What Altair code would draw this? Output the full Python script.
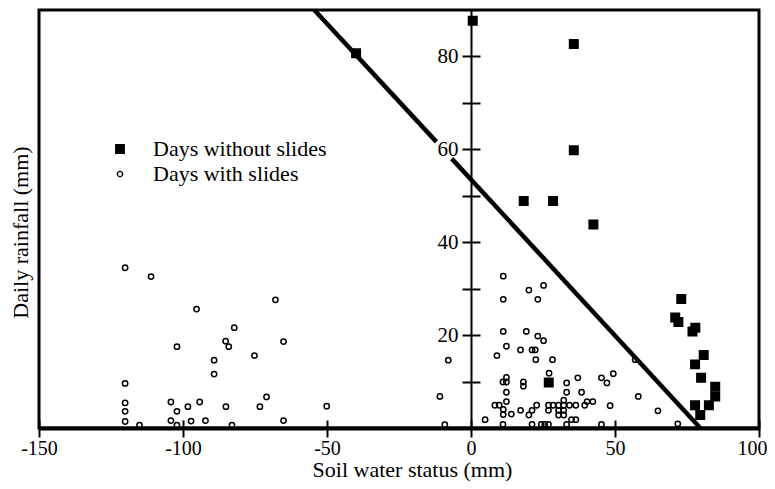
import altair as alt
import pandas as pd

# Days with slides (open circles)
slide_x = [-120.1, -111.1, -95.3, -67.9, -82.2, -85.2, -84.1, -65.1, -102.1, -75.2,
           -89.2, -89.2, -120.1, -71.0, -120.1, -104.2, -94.2, -120.1, -102.1, -98.3,
           -85.1, -73.3, -50.1, -120.1, -115.1, -104.2, -102.1, -97.2, -92.2, -83.0,
           -65.1,
           -7.9, -10.8, -9.1,
           11.2, 25.2, 20.1, 11.2, 23.2, 11.2, 19.2, 23.2, 25.2, 12.3,
           17.2, 21.2, 22.3, 9.0, 22.5, 28.3, 27.1, 12.3, 12.3, 11.1,
           18.2, 18.2, 37.1, 33.2, 45.3, 47.2, 49.4, 12.3, 33.2, 38.4,
           12.3, 8.3, 9.8, 11.2, 11.2, 14.0, 17.2, 20.1, 21.2, 22.8,
           26.9, 28.5, 30.4, 32.2, 34.2, 36.4, 32.2, 26.9, 30.4, 32.2,
           30.4, 32.2, 39.5, 40.3, 42.3, 48.3, 4.9, 11.1, 21.2, 24.4,
           25.6, 26.9, 33.2, 34.9, 36.4, 45.3, 57.0, 58.1, 64.9, 71.8]
slide_y = [34.5, 32.6, 25.6, 27.6, 21.6, 18.7, 17.5, 18.6, 17.5, 15.6,
           14.6, 11.6, 9.6, 6.7, 5.4, 5.6, 5.6, 3.6, 3.6, 4.6,
           4.6, 4.6, 4.7, 1.4, 0.6, 1.6, 0.6, 1.5, 1.6, 0.6,
           1.6,
           14.6, 6.8, 0.7,
           32.7, 30.7, 29.7, 27.7, 27.7, 20.8, 20.8, 19.8, 18.8, 17.6,
           16.8, 16.8, 16.8, 15.6, 14.7, 14.7, 11.8, 10.9, 9.9, 9.9,
           9.9, 9.0, 10.8, 9.7, 10.8, 9.7, 11.7, 7.7, 7.7, 7.7,
           5.7, 4.9, 4.9, 4.0, 2.9, 3.0, 3.8, 2.8, 3.8, 4.9,
           4.9, 4.9, 4.9, 4.9, 4.9, 4.9, 6.0, 3.8, 3.8, 3.8,
           2.8, 2.8, 4.9, 5.7, 5.7, 4.8, 1.8, 0.8, 0.8, 0.8,
           0.8, 0.8, 0.8, 1.8, 1.8, 0.8, 14.7, 6.8, 3.7, 0.9]

# Days without slides (filled squares)
noslide_x = [0.6, -39.9, 35.7, 35.7, 18.3, 28.5, 42.5, 27.0,
             73.0, 70.9, 72.0, 77.9, 76.9, 80.8, 77.8, 79.9, 84.8, 84.8,
             77.8, 82.6, 79.6]
noslide_y = [87.7, 80.7, 82.7, 59.8, 48.9, 48.9, 43.8, 9.8,
             27.8, 23.8, 22.8, 21.6, 20.8, 15.7, 13.7, 10.8, 8.9, 6.8,
             4.9, 4.9, 2.8]

# Threshold line (drawn in two pieces, broken around the "60" label)
line_x = [-54.4, -12.0, -6.7, 79.6]
line_y = [90.0, 61.6, 58.0, 0.0]
line_seg = ["a", "a", "b", "b"]

series = ["Days without slides", "Days with slides"]
x_ticks = [-150, -100, -50, 0, 50, 100]
y_ticks = [10, 20, 30, 40, 50, 60, 70, 80]

W, H = 720, 418
X0 = 432  # pixel position of x = 0 inside the plot
FONT = "Liberation Serif"

pts = pd.DataFrame({
    "x": noslide_x + slide_x,
    "y": noslide_y + slide_y,
    "series": [series[0]] * len(noslide_x) + [series[1]] * len(slide_x),
})
ldf = pd.DataFrame({"x": line_x, "y": line_y, "seg": line_seg})

xs = alt.Scale(domain=[-150, 100], nice=False, zero=False)
ys = alt.Scale(domain=[0, 90], nice=False, zero=False)

leg = alt.Legend(
    orient="none", legendX=70, legendY=128, title=None,
    labelFont=FONT, labelFontSize=22, labelColor="black", labelOffset=22,
    labelLimit=400, rowPadding=3, padding=0, symbolStrokeWidth=1.4,
)

points = alt.Chart(pts).mark_point(strokeWidth=1.5, opacity=1).encode(
    x=alt.X("x:Q", scale=xs, axis=alt.Axis(
        orient="bottom", values=x_ticks, tickSize=9, tickWidth=2, tickColor="black",
        domainColor="black", domainWidth=4, grid=False,
        labelFont=FONT, labelFontSize=20, labelColor="black", labelBaseline="alphabetic",
        labelPadding=17, labelFlush=False, labelOverlap=False,
        labelOffset={"condition": {"test": "datum.value == 100", "value": -7}, "value": 0},
        labelExpr="datum.value < 0 ? '-' + abs(datum.value) : '' + datum.value",
        title="Soil water status (mm)", titleFont=FONT, titleFontSize=22,
        titleFontWeight="normal", titleColor="black", titleX=373, titleY=48,
        titleBaseline="alphabetic", titleAlign="center")),
    y=alt.Y("y:Q", scale=ys, axis=alt.Axis(
        orient="left", offset=-X0, values=y_ticks, tickSize=9, tickWidth=2,
        tickColor="black", domainColor="black", domainWidth=2, grid=False,
        labelFont=FONT, labelFontSize=21, labelColor="black", labelPadding=4,
        labelFlush=False, labelOverlap=False,
        labelExpr="datum.value % 20 == 0 ? datum.label : ''",
        title="Daily rainfall (mm)", titleFont=FONT, titleFontSize=22,
        titleFontWeight="normal", titleColor="black", titleX=-X0 - 19, titleY=222,
        titleAngle=270, titleAlign="center", titleBaseline="middle")),
    shape=alt.Shape("series:N", scale=alt.Scale(domain=series, range=["square", "circle"]), legend=leg),
    fill=alt.Fill("series:N", scale=alt.Scale(domain=series, range=["black", "transparent"]), legend=leg),
    stroke=alt.Stroke("series:N", scale=alt.Scale(domain=series, range=["black", "black"]), legend=leg),
    size=alt.Size("series:N", scale=alt.Scale(domain=series, range=[72, 28]), legend=leg),
)

line = alt.Chart(ldf).mark_line(color="black", strokeWidth=4.5).encode(
    x=alt.X("x:Q", scale=xs, axis=alt.Axis(
        orient="top", offset=-H, values=x_ticks, tickSize=8, tickWidth=2,
        tickColor="black", labels=False, domain=False, grid=False, title=None)),
    y=alt.Y("y:Q", scale=ys, axis=alt.Axis(
        orient="right", offset=-(W - X0), values=y_ticks, tickSize=9, tickWidth=2,
        tickColor="black", labels=False, domain=False, grid=False, title=None)),
    detail="seg:N",
)

chart = alt.layer(line, points).resolve_axis(
    x="independent", y="independent"
).properties(
    width=W, height=H,
    padding={"left": 31, "top": 2, "right": 8, "bottom": 53},
    autosize=alt.AutoSizeParams(type="none"),
).configure_view(stroke="black", strokeWidth=3)

chart.save("out.html", embed_options={"renderer": "svg", "actions": False})
